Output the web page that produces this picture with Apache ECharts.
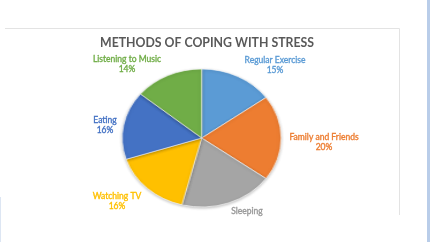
<!DOCTYPE html>
<html>
<head>
<meta charset="utf-8">
<script src="https://cdn.jsdelivr.net/npm/echarts@6/dist/echarts.min.js"></script>
<style>
  html, body { margin: 0; padding: 0; background: #fff; }
  #wrap { position: relative; width: 430px; height: 242px; overflow: hidden; }
  #slices, #main { position: absolute; left: 0; top: 0; width: 430px; height: 242px; }
  /* excel drew the pie a bit wider than tall */
  #slices { transform: scaleX(1.152); transform-origin: 201.7px 138px; }
</style>
</head>
<body>
<div id="wrap">
  <div id="slices"></div>
  <div id="main"></div>
</div>
<script>
var categories = ['Regular Exercise', 'Family and Friends', 'Sleeping', 'Watching TV', 'Eating', 'Listening to Music'];
var values = [15, 20, 19, 16, 16, 14];
var colors = ['#5B9BD5', '#ED7D31', '#A5A5A5', '#FFC000', '#4472C4', '#70AD47'];
var labelColors = ['#5B9BD5', '#ED7D31', '#999999', '#FFC000', '#4472C4', '#70AD47'];
// where excel put each label (center of text block)
var labelX = [275, 324, 247, 117, 105, 127];
var labelY = [65, 142.5, 211, 201.7, 125.5, 64];

var center = [201.7, 138];
var radius = 69;

var pieData = [];
var labelData = [];
for (var i = 0; i < categories.length; i++) {
    pieData.push({ name: categories[i], value: values[i], itemStyle: { color: colors[i] } });
    labelData.push({
        name: categories[i],
        value: values[i],
        label: { color: labelColors[i], textBorderColor: labelColors[i] }
    });
}

var pieChart = echarts.init(document.getElementById('slices'));
pieChart.setOption({
    animation: false,
    series: [{
        type: 'pie',
        center: center,
        radius: radius,
        startAngle: 90,
        clockwise: true,
        label: { show: false },
        labelLine: { show: false },
        itemStyle: {
            borderColor: '#fff',
            borderWidth: 0.6,
            shadowColor: 'rgba(0,0,0,0.25)',
            shadowBlur: 3,
            shadowOffsetY: 1
        },
        data: pieData
    }]
});

var myChart = echarts.init(document.getElementById('main'));
myChart.setOption({
    animation: false,
    backgroundColor: 'transparent',
    title: {
        text: 'METHODS OF COPING WITH STRESS',
        left: 202,
        top: 32,
        textAlign: 'center',
        textStyle: { fontFamily: 'Lato', fontWeight: 'bold', fontSize: 12.3, color: '#595959' }
    },
    graphic: [
        { type: 'polyline', shape: { points: [[5, 28.5], [399.5, 28.5], [399.5, 215]] }, style: { stroke: '#e3e3e3', fill: null, lineWidth: 1 } },
        { type: 'rect', shape: { x: 427, y: 0, width: 3, height: 242 }, style: { fill: '#b9cde9' } },
        { type: 'rect', shape: { x: 0, y: 197, width: 1, height: 45 }, style: { fill: '#dde6f3' } }
    ],
    series: [{
        type: 'pie',
        silent: true,
        center: center,
        radius: radius,
        startAngle: 90,
        clockwise: true,
        itemStyle: { color: 'rgba(0,0,0,0)' },
        labelLine: { show: false },
        label: {
            show: true,
            fontFamily: 'Lato',
            fontSize: 8.5,
            lineHeight: 10,
            textBorderWidth: 0.35,
            align: 'center',
            formatter: function (p) {
                if (p.name === 'Sleeping') return p.name;
                return p.name + '\n' + p.percent + '%';
            }
        },
        labelLayout: function (p) {
            return { x: labelX[p.dataIndex], y: labelY[p.dataIndex], align: 'center', verticalAlign: 'middle' };
        },
        data: labelData
    }]
});
</script>
</body>
</html>
